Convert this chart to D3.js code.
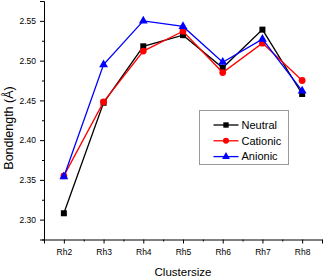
<!DOCTYPE html>
<html>
<head>
<meta charset="utf-8">
<script src="https://cdn.jsdelivr.net/npm/d3@7"></script>
<style>
  body { margin: 0; background: #fff; }
  text { font-family: "Liberation Sans", Arial, sans-serif; }
</style>
</head>
<body>
<div id="chart"></div>
<script>
var categories = ["Rh2", "Rh3", "Rh4", "Rh5", "Rh6", "Rh7", "Rh8"];
var neutral = [2.308, 2.447, 2.518, 2.532, 2.491, 2.539, 2.458];
var cationic = [2.355, 2.448, 2.512, 2.537, 2.485, 2.522, 2.475];
var anionic = [2.354, 2.495, 2.550, 2.543, 2.498, 2.527, 2.462];
var yTicks = [2.30, 2.35, 2.40, 2.45, 2.50, 2.55];

var width = 324, height = 279;
var margin = { top: 1, right: 2, bottom: 39.5, left: 44 };

var svg = d3.select("#chart").append("svg")
    .attr("width", width)
    .attr("height", height);

// category index on a linear scale so the axis can pad half a step each side
var x = d3.scaleLinear()
    .domain([-0.5, categories.length - 0.5])
    .range([margin.left, width - margin.right]);

var y = d3.scaleLinear()
    .domain([2.275, 2.575])
    .range([height - margin.bottom, margin.top]);

var series = [
    { name: "Neutral", values: neutral, color: "#000000", symbol: d3.symbolSquare, size: 36 },
    { name: "Cationic", values: cationic, color: "#ff0000", symbol: d3.symbolCircle, size: 36 },
    { name: "Anionic", values: anionic, color: "#0000ff", symbol: d3.symbolTriangle, size: 34 }
];

// minor ticks first
svg.append("g")
    .attr("transform", "translate(0," + y.range()[0] + ")")
    .call(d3.axisBottom(x).tickValues(d3.range(-0.5, categories.length, 1)).tickSize(2).tickFormat(""))
    .call(g => g.select(".domain").remove());

svg.append("g")
    .attr("transform", "translate(" + margin.left + ",0)")
    .call(d3.axisLeft(y).tickValues(d3.range(2.275, 2.576, 0.05)).tickSize(2).tickFormat(""))
    .call(g => g.select(".domain").remove());

// major axes
svg.append("g")
    .attr("transform", "translate(0," + y.range()[0] + ")")
    .call(d3.axisBottom(x).tickValues(d3.range(categories.length)).tickSize(4).tickPadding(5)
        .tickFormat(function (i) { return categories[i]; }));

svg.append("g")
    .attr("transform", "translate(" + margin.left + ",0)")
    .call(d3.axisLeft(y).tickValues(yTicks).tickSize(4).tickPadding(4).tickFormat(d3.format(".2f")));

svg.selectAll(".tick text").style("font-size", "8.5px").attr("fill", "#000");
svg.selectAll(".domain, .tick line").attr("stroke", "#000");

// axis titles
svg.append("text")
    .attr("x", (x.range()[0] + x.range()[1]) / 2)
    .attr("y", 276)
    .attr("text-anchor", "middle")
    .style("font-size", "11.5px")
    .text("Clustersize");

svg.append("text")
    .attr("transform", "translate(12.5,128) rotate(-90)")
    .attr("text-anchor", "middle")
    .style("font-size", "12.5px")
    .text("Bondlength (Å)");

// lines and markers
var line = d3.line()
    .x(function (d, i) { return x(i); })
    .y(function (d) { return y(d); });

series.forEach(function (s) {
    svg.append("path")
        .datum(s.values)
        .attr("d", line)
        .attr("fill", "none")
        .attr("stroke", s.color)
        .attr("stroke-width", 1.3);

    svg.selectAll(null)
        .data(s.values)
        .enter().append("path")
        .attr("transform", function (d, i) { return "translate(" + x(i) + "," + y(d) + ")"; })
        .attr("d", d3.symbol().type(s.symbol).size(s.size))
        .attr("fill", s.color);
});

// legend
var legend = svg.append("g").attr("transform", "translate(199.5,110.5)");
legend.append("rect")
    .attr("width", 89)
    .attr("height", 54)
    .attr("fill", "#fff")
    .attr("stroke", "#999")
    .attr("stroke-width", 1);

series.forEach(function (s, i) {
    var ly = 14.5 + i * 15.8;
    legend.append("line")
        .attr("x1", 14).attr("x2", 39)
        .attr("y1", ly).attr("y2", ly)
        .attr("stroke", s.color)
        .attr("stroke-width", 1.3);
    legend.append("path")
        .attr("transform", "translate(26.5," + ly + ")")
        .attr("d", d3.symbol().type(s.symbol).size(s.size * 0.8))
        .attr("fill", s.color);
    legend.append("text")
        .attr("x", 42)
        .attr("y", ly)
        .attr("dy", "0.35em")
        .style("font-size", "11px")
        .text(s.name);
});
</script>
</body>
</html>
